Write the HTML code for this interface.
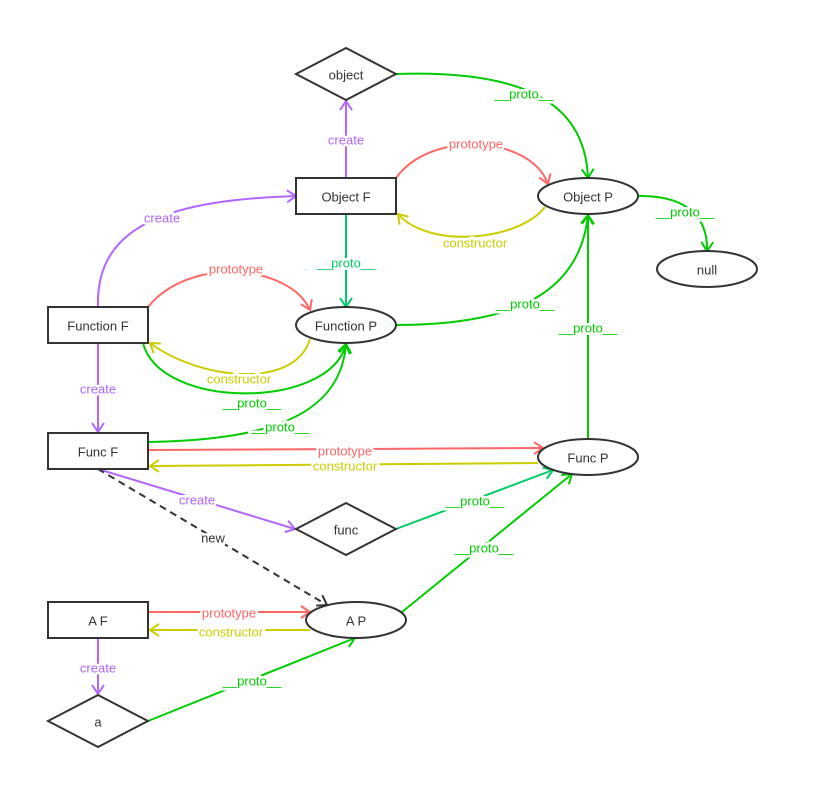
<!DOCTYPE html>
<html><head><meta charset="utf-8"><style>
html,body{margin:0;padding:0;background:#fff;}
svg{display:block;font-family:"Liberation Sans","DejaVu Sans",sans-serif;}
.l{font-size:13px;text-anchor:middle;dominant-baseline:central;paint-order:stroke;stroke:#fff;stroke-width:5px;}
.n{font-size:13px;text-anchor:middle;dominant-baseline:central;fill:#333;}
</style></head><body>
<svg width="819" height="809" viewBox="0 0 819 809">
<defs>
<marker id="mp" markerWidth="14" markerHeight="14" refX="11" refY="7" orient="auto" markerUnits="userSpaceOnUse"><polyline points="2,1 11,7 2,13" fill="none" stroke="#b266ff" stroke-width="2"/></marker>
<marker id="mr" markerWidth="14" markerHeight="14" refX="11" refY="7" orient="auto" markerUnits="userSpaceOnUse"><polyline points="2,1 11,7 2,13" fill="none" stroke="#ff6666" stroke-width="2"/></marker>
<marker id="my" markerWidth="14" markerHeight="14" refX="11" refY="7" orient="auto" markerUnits="userSpaceOnUse"><polyline points="2,1 11,7 2,13" fill="none" stroke="#cccc00" stroke-width="2"/></marker>
<marker id="mg" markerWidth="14" markerHeight="14" refX="11" refY="7" orient="auto" markerUnits="userSpaceOnUse"><polyline points="2,1 11,7 2,13" fill="none" stroke="#00cc00" stroke-width="2"/></marker>
<marker id="mt" markerWidth="14" markerHeight="14" refX="11" refY="7" orient="auto" markerUnits="userSpaceOnUse"><polyline points="2,1 11,7 2,13" fill="none" stroke="#00cc66" stroke-width="2"/></marker>
<marker id="mk" markerWidth="14" markerHeight="14" refX="11" refY="7" orient="auto" markerUnits="userSpaceOnUse"><polyline points="2,1 11,7 2,13" fill="none" stroke="#333" stroke-width="2"/></marker>
</defs>
<g fill="none" stroke-width="2">
<path d="M396,74 C520,70 585,100 588,178" stroke="#00cc00" marker-end="url(#mg)"/>
<path d="M346,178 L346,101" stroke="#b266ff" marker-end="url(#mp)"/>
<path d="M396,178 C430,130 530,135 548,184" stroke="#ff6666" marker-end="url(#mr)"/>
<path d="M545,207 C520,240 430,250 398,214" stroke="#cccc00" marker-end="url(#my)"/>
<path d="M638,196 C690,195 708,220 707,251" stroke="#00cc00" marker-end="url(#mg)"/>
<path d="M346,214 L346,307" stroke="#00cc66" marker-end="url(#mt)"/>
<path d="M98,307 C95,220 180,200 296,196" stroke="#b266ff" marker-end="url(#mp)"/>
<path d="M148,307 C190,255 290,265 310,310" stroke="#ff6666" marker-end="url(#mr)"/>
<path d="M310,339 C295,390 200,380 150,343" stroke="#cccc00" marker-end="url(#my)"/>
<path d="M143,343 C160,410 330,410 346,344" stroke="#00cc00" marker-end="url(#mg)"/>
<path d="M148,442 C260,440 340,420 346,344" stroke="#00cc00" marker-end="url(#mg)"/>
<path d="M396,325 C520,325 580,290 588,215" stroke="#00cc00" marker-end="url(#mg)"/>
<path d="M588,439 L588,215" stroke="#00cc00" marker-end="url(#mg)"/>
<path d="M98,343 L98,432" stroke="#b266ff" marker-end="url(#mp)"/>
<path d="M148,450 L543,448" stroke="#ff6666" marker-end="url(#mr)"/>
<path d="M538,463 L150,466" stroke="#cccc00" marker-end="url(#my)"/>
<path d="M98,469 L295,529" stroke="#b266ff" marker-end="url(#mp)"/>
<path d="M98,469 L327,605" stroke="#333" stroke-dasharray="7,5" marker-end="url(#mk)"/>
<path d="M396,529 L553,470" stroke="#00cc66" marker-end="url(#mt)"/>
<path d="M402,612 L572,474" stroke="#00cc00" marker-end="url(#mg)"/>
<path d="M148,612 L310,612" stroke="#ff6666" marker-end="url(#mr)"/>
<path d="M310,630 L150,630" stroke="#cccc00" marker-end="url(#my)"/>
<path d="M98,638 L98,694" stroke="#b266ff" marker-end="url(#mp)"/>
<path d="M148,721 L355,638" stroke="#00cc00" marker-end="url(#mg)"/>
</g>
<g class="l">
<text x="524" y="94" fill="#00cc00">__proto__</text>
<text x="346" y="140" fill="#b266ff">create</text>
<text x="476" y="144" fill="#ff6666">prototype</text>
<text x="475" y="243" fill="#cccc00">constructor</text>
<text x="685" y="212" fill="#00cc00">__proto__</text>
<text x="346" y="263" fill="#00cc66">__proto__</text>
<text x="162" y="218" fill="#b266ff">create</text>
<text x="236" y="269" fill="#ff6666">prototype</text>
<text x="239" y="379" fill="#cccc00">constructor</text>
<text x="252" y="403" fill="#00cc00">__proto__</text>
<text x="280" y="427" fill="#00cc00">__proto__</text>
<text x="525" y="304" fill="#00cc00">__proto__</text>
<text x="588" y="328" fill="#00cc00">__proto__</text>
<text x="98" y="389" fill="#b266ff">create</text>
<text x="345" y="451" fill="#ff6666">prototype</text>
<text x="345" y="466" fill="#cccc00">constructor</text>
<text x="197" y="500" fill="#b266ff">create</text>
<text x="213" y="538" fill="#333">new</text>
<text x="475" y="501" fill="#00cc00">__proto__</text>
<text x="484" y="548" fill="#00cc00">__proto__</text>
<text x="229" y="613" fill="#ff6666">prototype</text>
<text x="231" y="632" fill="#cccc00">constructor</text>
<text x="98" y="668" fill="#b266ff">create</text>
<text x="252" y="681" fill="#00cc00">__proto__</text>
</g>
<g fill="#fff" stroke="#333" stroke-width="2">
<polygon points="296,74 346,48 396,74 346,100"/>
<rect x="296" y="178" width="100" height="36"/>
<ellipse cx="588" cy="196" rx="50" ry="18"/>
<ellipse cx="707" cy="269" rx="50" ry="18"/>
<rect x="48" y="307" width="100" height="36"/>
<ellipse cx="346" cy="325" rx="50" ry="18"/>
<rect x="48" y="433" width="100" height="36"/>
<ellipse cx="588" cy="457" rx="50" ry="18"/>
<polygon points="296,529 346,503 396,529 346,555"/>
<rect x="48" y="602" width="100" height="36"/>
<ellipse cx="356" cy="620" rx="50" ry="18"/>
<polygon points="48,721 98,695 148,721 98,747"/>
</g>
<g class="n">
<text x="346" y="75">object</text>
<text x="346" y="197">Object F</text>
<text x="588" y="197">Object P</text>
<text x="707" y="270">null</text>
<text x="98" y="326">Function F</text>
<text x="346" y="326">Function P</text>
<text x="98" y="452">Func F</text>
<text x="588" y="458">Func P</text>
<text x="346" y="530">func</text>
<text x="98" y="621">A F</text>
<text x="356" y="621">A P</text>
<text x="98" y="722">a</text>
</g>
</svg>
</body></html>
